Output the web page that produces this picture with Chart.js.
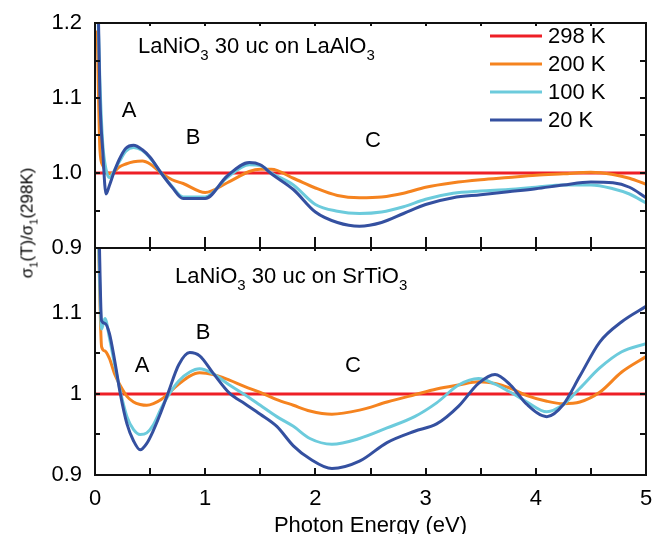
<!DOCTYPE html>
<html>
<head>
<meta charset="utf-8">
<script src="https://cdn.jsdelivr.net/npm/chart.js@4.4.1/dist/chart.umd.min.js"></script>
<style>
  body { margin: 0; width: 653px; height: 534px; overflow: hidden; position: relative; background: #fff;
         font-family: 'Liberation Sans', Arial, sans-serif; color: #000; }
  canvas { position: absolute; left: 0; }
  .txt { position: absolute; white-space: nowrap; line-height: 1; font-size: 22px; }
  .mark { transform: translate(-50%, -50%); }
  .s3 { font-size: 15px; position: relative; top: 7px; }
  #yanchor { position: absolute; left: 27px; top: 223px; width: 0; height: 0; }
  #ytitle { left: 0; top: 0; font-size: 17px; transform: translate(-50%, -50%) rotate(-90deg); }
  #ytitle .s1 { font-size: 11px; position: relative; top: 5px; }
</style>
</head>
<body>
<canvas id="topChart" width="653" height="262" style="top:0;width:653px;height:262px"></canvas>
<canvas id="bottomChart" width="653" height="320" style="top:228px;width:653px;height:320px"></canvas>

<div class="txt" style="left:138px;top:35px">LaNiO<span class="s3">3</span> 30 uc on LaAlO<span class="s3">3</span></div>
<div class="txt" style="left:175px;top:265px">LaNiO<span class="s3">3</span> 30 uc on SrTiO<span class="s3">3</span></div>
<div class="txt mark" style="left:129px;top:110px">A</div>
<div class="txt mark" style="left:193px;top:137px">B</div>
<div class="txt mark" style="left:373px;top:140px">C</div>
<div class="txt mark" style="left:142px;top:365px">A</div>
<div class="txt mark" style="left:203px;top:332px">B</div>
<div class="txt mark" style="left:353px;top:365px">C</div>
<div id="yanchor"><div class="txt" id="ytitle">σ<span class="s1">1</span>(T)/σ<span class="s1">1</span>(298K)</div></div>

<script>
// LaNiO3 on LaAlO3 (top panel)
const energyTop = [0.02, 0.045, 0.07, 0.1, 0.13, 0.17, 0.22, 0.28, 0.35, 0.43, 0.5, 0.6, 0.7, 0.8, 1.0, 1.2, 1.4, 1.5, 1.6, 1.8,
  2.0, 2.2, 2.4, 2.6, 2.8, 3.0, 3.25, 3.5, 3.75, 4.0, 4.25, 4.5, 4.7, 4.85, 5.0];
const top200K = [1.19, 1.03, 1.01, 1.002, 0.999, 1.001, 1.008, 1.012, 1.015, 1.016, 1.012, 1.0, 0.991, 0.986, 0.974, 0.987, 1.002, 1.005, 1.005, 0.993,
  0.98, 0.97, 0.967, 0.968, 0.973, 0.981, 0.987, 0.991, 0.994, 0.997, 0.999, 1.001, 0.998, 0.993, 0.985];
const top100K = [1.25, 1.12, 1.04, 1.005, 0.994, 1.002, 1.015, 1.029, 1.034, 1.03, 1.02, 1.0, 0.982, 0.968, 0.968, 0.994, 1.011, 1.01, 1.0, 0.984,
  0.958, 0.949, 0.946, 0.948, 0.955, 0.965, 0.973, 0.976, 0.978, 0.981, 0.984, 0.984, 0.979, 0.972, 0.96];
const top20K = [1.3, 1.1, 1.03, 0.972, 0.983, 1.0, 1.018, 1.033, 1.037, 1.031, 1.021, 1.0, 0.981, 0.966, 0.966, 0.996, 1.014, 1.011, 0.999, 0.978,
  0.948, 0.934, 0.929, 0.934, 0.946, 0.958, 0.967, 0.971, 0.975, 0.979, 0.984, 0.988, 0.987, 0.981, 0.967];

// LaNiO3 on SrTiO3 (bottom panel)
const energyBottom = [0.03, 0.06, 0.09, 0.13, 0.18, 0.23, 0.29, 0.35, 0.41, 0.47, 0.53, 0.6, 0.66, 0.76, 0.86, 0.95, 1.07, 1.22, 1.36, 1.5,
  1.65, 1.8, 1.95, 2.15, 2.4, 2.65, 2.9, 3.1, 3.3, 3.48, 3.63, 3.77, 3.92, 4.1, 4.25, 4.4, 4.58, 4.78, 5.0];
const bottom200K = [1.2, 1.058, 1.053, 1.044, 1.024, 1.01, 0.997, 0.99, 0.987, 0.986, 0.988, 0.993, 1.0, 1.012, 1.022, 1.026, 1.024, 1.017, 1.009, 1.002,
  0.993, 0.986, 0.979, 0.975, 0.98, 0.99, 0.999, 1.006, 1.011, 1.015, 1.013, 1.007, 0.998, 0.991, 0.988, 0.99, 1.002, 1.027, 1.046];
const bottom100K = [1.2, 1.08, 1.093, 1.07, 1.035, 1.003, 0.972, 0.956, 0.95, 0.952, 0.962, 0.982, 0.997, 1.016, 1.027, 1.031, 1.025, 1.011, 0.999, 0.986,
  0.972, 0.96, 0.945, 0.938, 0.945, 0.958, 0.972, 0.989, 1.011, 1.019, 1.012, 1.002, 0.99, 0.978, 0.987, 1.007, 1.032, 1.052, 1.062];
const bottom20K = [1.25, 1.09, 1.087, 1.075, 1.04, 1.0, 0.963, 0.942, 0.931, 0.939, 0.955, 0.978, 1.0, 1.036, 1.051, 1.047, 1.026, 1.001, 0.988, 0.975,
  0.96, 0.936, 0.92, 0.908, 0.917, 0.94, 0.954, 0.963, 0.985, 1.013, 1.024, 1.011, 0.987, 0.972, 0.987, 1.022, 1.064, 1.089, 1.108];

// 298 K reference (ratio to itself)
const refEnergy = [0, 5];
const refRatio = [1, 1];

const seriesLabels = ['298 K', '200 K', '100 K', '20 K'];
const seriesColors = ['#ee1f26', '#f5831f', '#6ccbdc', '#3450a0'];
const fontFamily = "'Liberation Sans', Arial, sans-serif";

Chart.defaults.font.family = fontFamily;
Chart.defaults.color = '#000';

const pairs = (xs, ys) => xs.map((x, i) => ({ x: x, y: ys[i] }));

function makeDatasets(energy, s200, s100, s20) {
  const sets = [pairs(refEnergy, refRatio), pairs(energy, s200), pairs(energy, s100), pairs(energy, s20)];
  return sets.map((data, i) => ({
    label: seriesLabels[i],
    data: data,
    borderColor: seriesColors[i],
    borderWidth: 3,
    pointRadius: 0,
    fill: false,
    cubicInterpolationMode: 'monotone',
    order: 4 - i
  }));
}

// fixed axis sizes, no extra label padding, so both plot boxes line up
const noPad = s => { s.paddingTop = 0; s.paddingBottom = 0; s.paddingLeft = 0; s.paddingRight = 0; };

const isTenth = v => Math.abs(v * 10 - Math.round(v * 10)) < 1e-6;

function yScale(min, max, fmt) {
  return {
    min: min, max: max,
    afterFit: s => { s.width = 95; noPad(s); },
    grid: { display: false, drawTicks: false },
    border: { display: false },
    ticks: {
      stepSize: 0.05, includeBounds: false, autoSkip: false, padding: 13,
      font: { size: 22 }, color: '#000',
      callback: v => isTenth(v) ? fmt(v) : ''
    }
  };
}

// box around the plot with inward ticks
const framePlugin = {
  id: 'frame',
  afterDatasetsDraw(chart, args, opts) {
    const { ctx, chartArea: a } = chart;
    const x = chart.scales.x, y = chart.scales.y;
    ctx.save();
    ctx.strokeStyle = '#111';
    ctx.lineWidth = 2;
    ctx.beginPath();
    for (let v = 0; v <= 5.001; v += 0.5) {
      const px = Math.round(x.getPixelForValue(v));
      ctx.moveTo(px, a.bottom); ctx.lineTo(px, a.bottom - opts.xTick);
      ctx.moveTo(px, a.top); ctx.lineTo(px, a.top + 3);
    }
    y.ticks.forEach(t => {
      const py = Math.round(y.getPixelForValue(t.value));
      ctx.moveTo(a.left, py); ctx.lineTo(a.left + 5, py);
      ctx.moveTo(a.right, py); ctx.lineTo(a.right - 6, py);
    });
    ctx.stroke();
    ctx.strokeRect(a.left, a.top, a.right - a.left, a.bottom - a.top);
    ctx.restore();
  }
};

const legendPlugin = {
  id: 'sideLegend',
  afterDraw(chart) {
    const ctx = chart.ctx;
    ctx.save();
    ctx.font = '22px ' + fontFamily;
    ctx.textBaseline = 'middle';
    ctx.fillStyle = '#000';
    chart.data.datasets.forEach((ds, i) => {
      const yy = 36 + i * 28;
      ctx.strokeStyle = ds.borderColor;
      ctx.lineWidth = 3;
      ctx.beginPath(); ctx.moveTo(490, yy); ctx.lineTo(542, yy); ctx.stroke();
      ctx.fillText(ds.label, 548, yy + 1);
    });
    ctx.restore();
  }
};

const baseOptions = {
  responsive: false, animation: false, devicePixelRatio: 1
};

new Chart(document.getElementById('topChart'), {
  type: 'line',
  data: { datasets: makeDatasets(energyTop, top200K, top100K, top20K) },
  options: Object.assign({}, baseOptions, {
    layout: { padding: { top: 23, right: 7, bottom: 14, left: 0 } },
    plugins: { legend: { display: false }, tooltip: { enabled: false }, frame: { xTick: 11 } },
    scales: {
      x: { type: 'linear', min: 0, max: 5, display: false, afterFit: noPad },
      y: yScale(0.9, 1.2, v => v.toFixed(1))
    }
  }),
  plugins: [framePlugin, legendPlugin]
});

new Chart(document.getElementById('bottomChart'), {
  type: 'line',
  data: { datasets: makeDatasets(energyBottom, bottom200K, bottom100K, bottom20K) },
  options: Object.assign({}, baseOptions, {
    layout: { padding: { top: 20, right: 7, bottom: 0, left: 0 } },
    plugins: { legend: { display: false }, tooltip: { enabled: false }, frame: { xTick: 7 } },
    scales: {
      x: {
        type: 'linear', min: 0, max: 5,
        afterFit: s => { s.height = 73; noPad(s); },
        grid: { display: false, drawTicks: false },
        border: { display: false },
        ticks: { stepSize: 1, padding: 11, font: { size: 22 }, color: '#000' },
        title: { display: true, text: 'Photon Energy (eV)', font: { size: 22 }, color: '#000', padding: { top: 0, bottom: 9 } }
      },
      y: yScale(0.9, 1.18, v => (Math.abs(v - 1) < 1e-6 ? '1' : v.toFixed(1)))
    }
  }),
  plugins: [framePlugin]
});
</script>
</body>
</html>
